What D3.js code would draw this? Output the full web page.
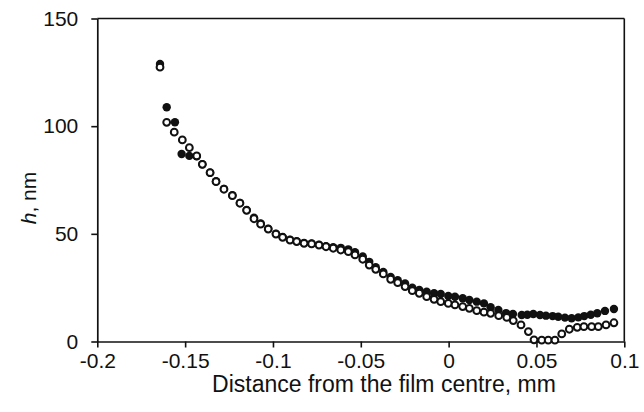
<!DOCTYPE html>
<html><head><meta charset="utf-8">
<script src="https://cdn.jsdelivr.net/npm/d3@7"></script>
<style>body{margin:0;background:#fff}svg{display:block}text{font-family:"Liberation Sans",Arial,sans-serif;fill:#111}</style>
</head><body>
<script>
// Open circles
const xOpen = [-0.1643,-0.1605,-0.1562,-0.1516,-0.1476,-0.1434,-0.1402,-0.1358,-0.1324,-0.1279,-0.1231,-0.1188,-0.115,-0.1108,-0.107,-0.1027,-0.0983,-0.0945,-0.0903,-0.0865,-0.0823,-0.078,-0.0738,-0.0698,-0.0657,-0.0614,-0.0571,-0.0533,-0.0489,-0.0452,-0.0415,-0.0372,-0.033,-0.029,-0.0248,-0.0207,-0.0167,-0.0125,-0.0083,-0.0045,-0.0002,0.0036,0.008,0.0118,0.016,0.0201,0.0239,0.0285,0.0331,0.0368,0.0412,0.0454,0.0486,0.053,0.0567,0.0605,0.0644,0.0687,0.0732,0.077,0.0814,0.0852,0.0896,0.0941];
const hOpen = [127.4,101.8,97.2,93.6,90.0,86.2,82.3,78.4,74.2,70.7,67.7,64.2,60.9,57.0,54.5,52.2,49.9,48.4,47.1,46.4,45.6,45.3,44.8,44.0,43.3,42.5,41.7,40.2,38.2,35.5,33.5,31.4,28.9,27.3,25.5,23.6,22.4,20.8,19.6,18.5,17.7,17.0,16.2,15.4,14.3,13.6,13.1,12.0,11.2,9.7,7.7,4.6,0.8,0.6,0.6,0.6,3.5,5.7,6.6,6.9,6.9,6.9,7.7,8.7];
// Filled circles
const xFilled = [-0.1643,-0.1605,-0.1558,-0.152,-0.1476,-0.1434,-0.1402,-0.1358,-0.1324,-0.1279,-0.1231,-0.1188,-0.115,-0.1108,-0.107,-0.1027,-0.0983,-0.0945,-0.0903,-0.0865,-0.0823,-0.078,-0.0738,-0.0698,-0.0657,-0.0614,-0.0571,-0.0533,-0.0489,-0.0452,-0.0415,-0.0372,-0.033,-0.029,-0.0248,-0.0207,-0.0167,-0.0125,-0.0083,-0.0045,-0.0002,0.0036,0.008,0.0118,0.016,0.0201,0.0239,0.0283,0.0327,0.0366,0.0416,0.0448,0.0482,0.052,0.0554,0.0592,0.0624,0.0662,0.07,0.0738,0.0772,0.0809,0.0846,0.089,0.0941];
const hFilled = [128.9,108.8,101.8,87.1,86.2,86.0,82.3,78.4,74.4,70.9,67.9,64.4,61.1,57.5,54.8,52.4,50.1,48.6,47.3,46.6,45.8,45.5,45.0,44.3,43.8,43.5,42.8,41.5,39.5,37.0,34.5,32.3,30.0,28.5,27.0,25.0,23.9,23.1,22.4,22.1,21.1,20.8,20.1,19.3,18.5,17.7,15.9,14.6,13.2,12.8,12.3,12.4,12.8,12.3,12.0,11.8,11.5,11.1,10.8,11.2,11.8,12.4,13.1,14.2,15.1];
const xTicks = [-0.2,-0.15,-0.1,-0.05,0,0.05,0.1];
const yTicks = [0,50,100,150];
const xTitle = "Distance from the film centre, mm";

const W = 644, H = 412;
const svg = d3.select("body").append("svg").attr("width", W).attr("height", H);
const x = d3.scaleLinear().domain([-0.2, 0.1]).range([97.3, 624.3]);
const y = d3.scaleLinear().domain([0, 150]).range([341.5, 18.5]);

// frame
svg.append("line").attr("x1", x(-0.2)).attr("x2", x(0.1)).attr("y1", y(150)).attr("y2", y(150)).attr("stroke", "#111").attr("stroke-width", 1.6);
svg.append("line").attr("x1", x(0.1)).attr("x2", x(0.1)).attr("y1", y(150)).attr("y2", y(0)).attr("stroke", "#111").attr("stroke-width", 1.6);

const fmtX = d => d === 0 ? "0" : String(d);
const xAxis = svg.append("g").attr("transform", `translate(0,${y(0)})`)
  .call(d3.axisBottom(x).tickValues(xTicks).tickFormat(fmtX).tickSize(6).tickPadding(6).tickSizeOuter(0));
const yAxis = svg.append("g").attr("transform", `translate(${x(-0.2)},0)`)
  .call(d3.axisLeft(y).tickValues(yTicks).tickSize(6).tickPadding(13).tickSizeOuter(0));
[xAxis, yAxis].forEach(g => {
  g.select(".domain").attr("stroke", "#111").attr("stroke-width", 1.7);
  g.selectAll(".tick line").attr("stroke", "#111").attr("stroke-width", 1.6);
  g.selectAll(".tick text").attr("font-size", 21).attr("font-family", '"Liberation Sans",Arial,sans-serif').attr("fill", "#111");
});

// filled series
svg.append("g").selectAll("circle").data(xFilled.map((v, i) => [v, hFilled[i]])).join("circle")
  .attr("cx", d => x(d[0])).attr("cy", d => y(d[1])).attr("r", 4.2).attr("fill", "#111").attr("stroke", "none");
// open series
svg.append("g").selectAll("circle").data(xOpen.map((v, i) => [v, hOpen[i]])).join("circle")
  .attr("cx", d => x(d[0])).attr("cy", d => y(d[1])).attr("r", 3.4).attr("fill", "#fff").attr("stroke", "#111").attr("stroke-width", 2);

// titles
svg.append("text").attr("x", 384).attr("y", 392).attr("text-anchor", "middle").attr("font-size", 23).text(xTitle);
const yl = svg.append("text").attr("transform", "translate(36,198) rotate(-90)").attr("text-anchor", "middle").attr("font-size", 21);
yl.append("tspan").attr("font-style", "italic").text("h");
yl.append("tspan").text(", nm");
</script>
</body></html>
